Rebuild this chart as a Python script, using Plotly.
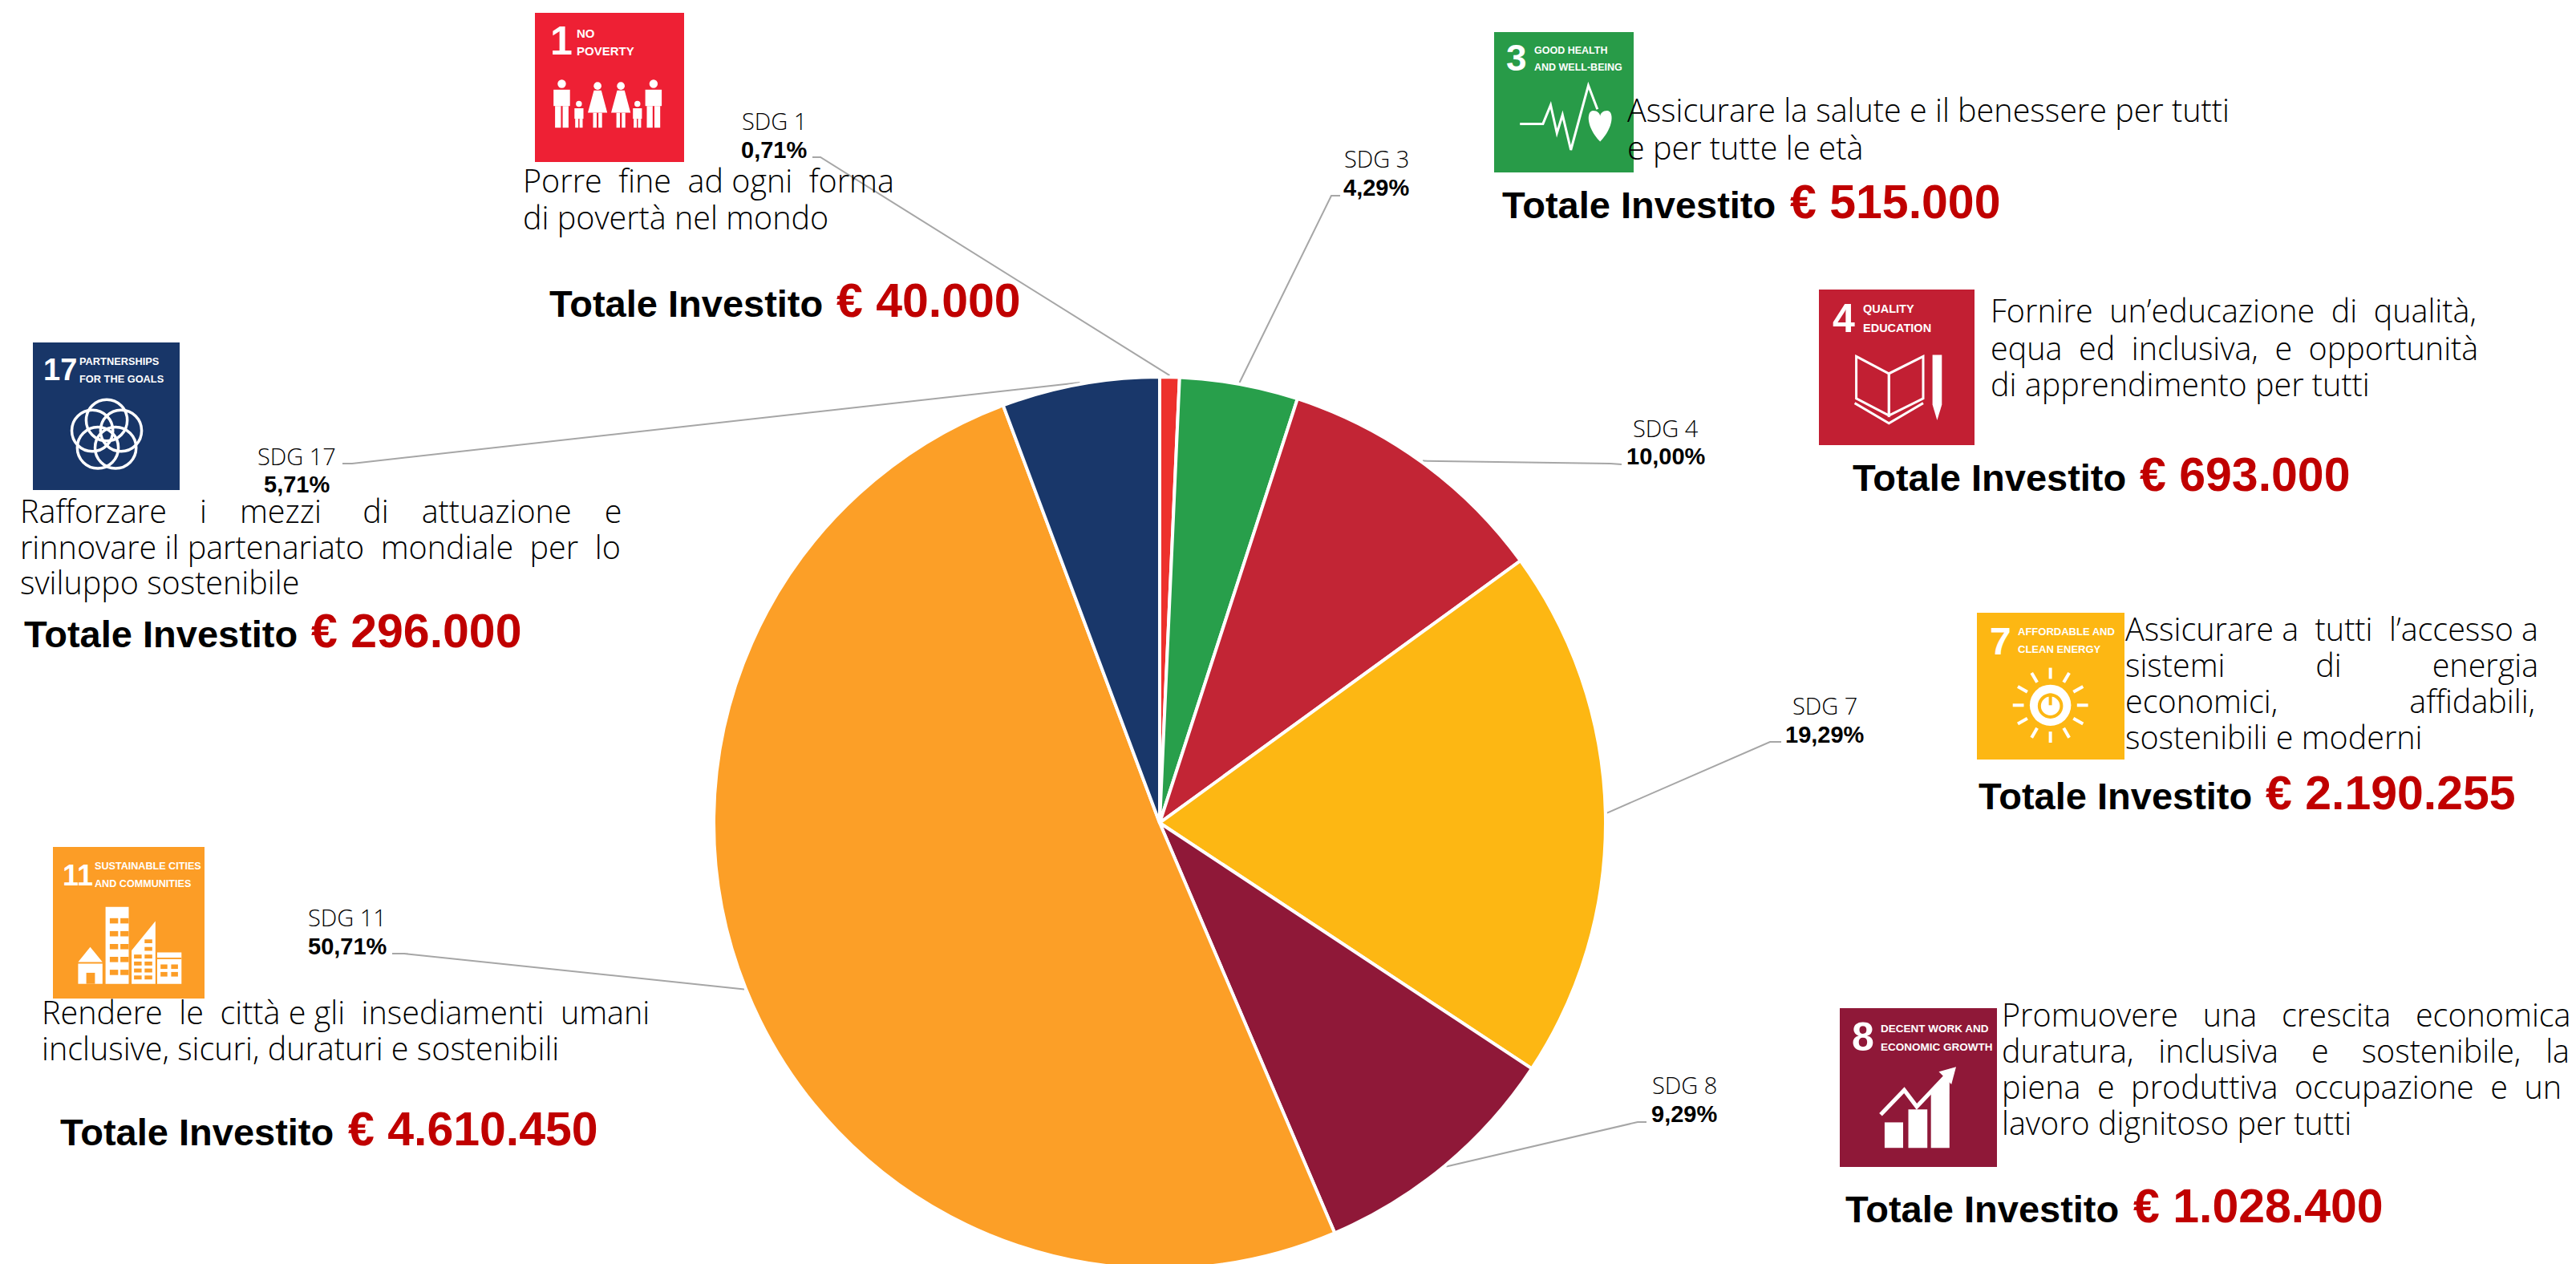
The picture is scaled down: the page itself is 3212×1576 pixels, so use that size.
import math
import re

import plotly.graph_objects as go

# Share of the investment per Sustainable Development Goal
sdg_numbers = [1, 3, 4, 7, 8, 11, 17]
sdg_shares = [0.71, 4.29, 10.00, 19.29, 9.29, 50.71, 5.71]
sdg_colors = ["#ED312C", "#289F4B", "#C22535", "#FDB713", "#8F1838", "#FC9F27", "#19376A"]
invested = ["40.000", "515.000", "693.000", "2.190.255", "1.028.400", "4.610.450", "296.000"]

# Runs of spaces stand in for the justified setting of these paragraphs
descriptions = {
    1: ["Porre  fine  ad ogni  forma", "di povertà nel mondo"],
    3: ["Assicurare la salute e il benessere per tutti", "e per tutte le età"],
    4: ["Fornire  un’educazione  di  qualità,", "equa  ed  inclusiva,  e  opportunità", "di apprendimento per tutti"],
    7: ["Assicurare a  tutti  l’accesso a", "sistemi           di           energia",
        "economici,                affidabili,", "sostenibili e moderni"],
    8: ["Promuovere   una   crescita   economica", "duratura,   inclusiva    e    sostenibile,   la",
        "piena  e  produttiva  occupazione  e  un", "lavoro dignitoso per tutti"],
    11: ["Rendere  le  città e gli  insediamenti  umani", "inclusive, sicuri, duraturi e sostenibili"],
    17: ["Rafforzare    i    mezzi     di    attuazione    e",
         "rinnovare il partenariato  mondiale  per  lo", "sviluppo sostenibile"],
}
tile_titles = {
    1: ["NO", "POVERTY"],
    3: ["GOOD HEALTH", "AND WELL-BEING"],
    4: ["QUALITY", "EDUCATION"],
    7: ["AFFORDABLE AND", "CLEAN ENERGY"],
    8: ["DECENT WORK AND", "ECONOMIC GROWTH"],
    11: ["SUSTAINABLE CITIES", "AND COMMUNITIES"],
    17: ["PARTNERSHIPS", "FOR THE GOALS"],
}
tile_colors = {1: "#EE2034", 3: "#289B48", 4: "#C21F33", 7: "#FDB713", 8: "#8F1838", 11: "#FC9D26", 17: "#183668"}

# Page layout, in pixels from the top-left corner
WIDTH, HEIGHT = 3212, 1590
PIE_X, PIE_Y, PIE_R = 1446, 1026, 556
BODY_FONT = dict(family="Open Sans", size=39.5, color="#000000", weight=300)
BOLD_FONT = "Liberation Sans"

# x0, x1, y0, y1 of each tile; number x, y, size; title x, y of both lines, size
tiles = {
    1: dict(box=(667, 853, 16, 202), num=(686, 51, 50), title=(719, 41, 63), size=15),
    3: dict(box=(1863, 2037, 40, 215), num=(1878, 72, 46), title=(1913, 63, 84), size=12.5),
    4: dict(box=(2268, 2462, 361, 555), num=(2285, 397, 50), title=(2323, 385, 409), size=14.5),
    7: dict(box=(2465, 2649, 764, 947), num=(2481, 799, 48), title=(2516, 787, 809), size=13),
    8: dict(box=(2294, 2490, 1257, 1455), num=(2309, 1293, 50), title=(2345, 1282, 1305), size=13.5),
    11: dict(box=(66, 255, 1056, 1245), num=(78, 1091, 36), title=(118, 1080, 1102), size=12.6),
    17: dict(box=(41, 224, 427, 611), num=(54, 461, 38), title=(99, 450, 472), size=12.8),
}
# x of the label centre, y of its two lines
label_pos = {
    1: (965, 150, 187), 3: (1716, 197, 234), 4: (2077, 533, 569), 7: (2275, 879, 916),
    8: (2100, 1352, 1389), 11: (433, 1143, 1180), 17: (370, 568, 604),
}
# Leader line: end of the stub next to the label, then the elbow
leader_pos = {
    1: ((1013, 196), (1023, 196)), 3: ((1671, 244), (1660, 244)), 4: ((2022, 579), (2008, 578)),
    7: ((2221, 925), (2207, 925)), 8: ((2053, 1399), (2042, 1399)), 11: ((489, 1189), (504, 1189)),
    17: ((427, 578), (439, 578)),
}
# x of the first line, y of each line of description
desc_pos = {
    1: (652, [225, 271]), 3: (2029, [137, 184]), 4: (2482, [387, 434, 479]),
    7: (2650, [784, 829, 874, 919]), 8: (2496, [1265, 1310, 1355, 1400]),
    11: (52, [1262, 1307]), 17: (25, [637, 682, 726]),
}
# x of "Totale Investito", x of the amount, y of the row
total_pos = {
    1: (685, 1043, 375), 3: (1873, 2232, 252), 4: (2310, 2668, 592), 7: (2467, 2825, 989),
    8: (2301, 2660, 1504), 11: (75, 434, 1408), 17: (30, 388, 787),
}


def scaled(num, d):
    """Convert a path written in 0-100 tile units to page pixels."""
    x0, x1, y0, y1 = tiles[num]["box"]
    count = [0]

    def repl(m):
        v = float(m.group())
        i = count[0]
        count[0] += 1
        if i % 2 == 0:
            return f"{x0 + v / 100 * (x1 - x0):.1f}"
        return f"{y0 + v / 100 * (y1 - y0):.1f}"

    return re.sub(r"-?\d+\.?\d*", repl, d)


def solid(num, d, color="white"):
    return dict(type="path", path=scaled(num, d), fillcolor=color, line=dict(width=0), xref="x", yref="y")


def stroke(num, d, width=3, color="white"):
    return dict(type="path", path=scaled(num, d), line=dict(color=color, width=width), xref="x", yref="y")


def disc(num, u, v, r, color="white", outline=None, width=0):
    x0, x1, y0, y1 = tiles[num]["box"]
    w, h = (x1 - x0) / 100, (y1 - y0) / 100
    return dict(type="circle", xref="x", yref="y",
                x0=x0 + (u - r) * w, x1=x0 + (u + r) * w, y0=y0 + (v - r) * h, y1=y0 + (v + r) * h,
                fillcolor=color if outline is None else "rgba(0,0,0,0)",
                line=dict(color=outline or color, width=width))


def rect_d(a, b, c, d):
    return f"M {a} {c} L {b} {c} L {b} {d} L {a} {d} Z"


def icon_family():
    out = []
    for u in (18, 79.5):  # adults at both ends
        out.append(disc(1, u, 47.6, 2.8))
        out.append(solid(1, rect_d(u - 5.5, u + 5.5, 51.5, 62.5)))
        out.append(solid(1, rect_d(u - 4.5, u - 0.6, 62.5, 77)))
        out.append(solid(1, rect_d(u + 0.6, u + 4.5, 62.5, 77)))
    for u in (42, 57.6):  # the two women
        out.append(disc(1, u, 49, 2.6))
        out.append(solid(1, f"M {u - 2.5} 52 L {u + 2.5} 52 L {u + 6.5} 67 L {u - 6.5} 67 Z"))
        out.append(solid(1, rect_d(u - 3, u - 0.6, 67, 77)))
        out.append(solid(1, rect_d(u + 0.6, u + 3, 67, 77)))
    for u in (29.5, 68.7):  # the two children
        out.append(disc(1, u, 61, 2))
        out.append(solid(1, rect_d(u - 3, u + 3, 64, 71)))
        out.append(solid(1, rect_d(u - 2.5, u - 0.4, 71, 77)))
        out.append(solid(1, rect_d(u + 0.4, u + 2.5, 71, 77)))
    return out


def icon_heartbeat():
    return [
        stroke(3, "M 18.5 65.4 L 35 65.4 L 40.5 52 L 45 72 L 49 59 L 55 84 L 67.5 38 L 74 55", 3),
        solid(3, "M 76 78 C 66 68 66 56 71 56 C 74 56 76 58 76 60 C 76 58 78 56 81 56 C 86 56 86 68 76 78 Z"),
    ]


def icon_book():
    return [
        stroke(4, "M 24 43 L 45 54 L 45 81 L 24 70 Z", 3),
        stroke(4, "M 67 43 L 45 54 L 45 81 L 67 70 Z", 3),
        stroke(4, "M 23 73 L 45 86 L 67 73", 3),
        solid(4, "M 73 42 L 79 42 L 79 74 L 76 84 L 73 74 Z"),
    ]


def icon_sun():
    out = [disc(7, 49.8, 63, 14), disc(7, 49.8, 63.5, 7.5, outline=tile_colors[7], width=4),
           stroke(7, "M 49.8 55 L 49.8 63", 4, tile_colors[7])]
    for k in range(12):  # rays round the disc
        a = math.radians(k * 30)
        s, c = math.sin(a), math.cos(a)
        out.append(stroke(7, f"M {49.8 + 18 * s:.2f} {63 - 18 * c:.2f} L {49.8 + 25.5 * s:.2f} {63 - 25.5 * c:.2f}", 4))
    return out


def icon_growth():
    return [
        solid(8, rect_d(28.5, 40.3, 71.9, 88)), solid(8, rect_d(43.6, 55.7, 63.8, 88)),
        solid(8, "M 58 54 L 69.8 41 L 69.8 88 L 58 88 Z"),
        stroke(8, "M 26 67 L 41 51.6 L 49 62 L 71 39", 5),
        solid(8, "M 74 37 L 63 40 L 71 48 Z"),
    ]


def icon_city():
    orange = tile_colors[11]
    out = [
        solid(11, rect_d(34.7, 50, 39.5, 90.3)),
        solid(11, "M 51.9 90.3 L 51.9 68.3 L 67.6 48.9 L 67.6 90.3 Z"),
        solid(11, rect_d(68.8, 84.8, 69.5, 90.3)),
        solid(11, "M 16.6 76 L 24.6 66 L 32.7 76 Z"),
        solid(11, rect_d(16.6, 32.7, 77, 90.3)),
        solid(11, rect_d(22, 27.7, 83, 90.3), orange),
    ]
    for r in range(5):  # windows of the tower
        for c in range(2):
            a, b = 37.5 + c * 7, 43 + c * 7
            t = 47 + r * 8.5
            out.append(solid(11, rect_d(a, b, t, t + 3.5), orange))
    for r in range(4):  # windows of the slanted block
        for c in range(2):
            a, b = 53.5 + c * 7, 58.5 + c * 7
            t = 71 + r * 4.6
            out.append(solid(11, rect_d(a, b, t, t + 2.6), orange))
    out.append(solid(11, rect_d(60.5, 65.5, 61, 63.5), orange))
    out.append(solid(11, rect_d(60.5, 65.5, 66, 68.5), orange))
    for r in range(2):  # windows of the low block
        for c in range(2):
            a, b = 71 + c * 7, 75.5 + c * 7
            t = 77.5 + r * 5
            out.append(solid(11, rect_d(a, b, t, t + 3), orange))
    out.append(solid(11, rect_d(68.8, 84.8, 73, 74), orange))
    return out


def icon_rings():
    out = []
    for k in range(5):  # five interlaced rings
        a = math.radians(k * 72)
        out.append(disc(17, 50.3 + 10.3 * math.sin(a), 63 - 10.3 * math.cos(a), 14, outline="white", width=3.5))
    return out


# Leader lines run from the middle of each slice's rim out to its label
leader_x, leader_y = [], []
running = 0.0
for num, share in zip(sdg_numbers, sdg_shares):
    mid = math.radians((running + share / 2) * 3.6)
    running += share
    rim = (PIE_X + (PIE_R + 2) * math.sin(mid), PIE_Y - (PIE_R + 2) * math.cos(mid))
    stub, elbow = leader_pos[num]
    leader_x += [stub[0], elbow[0], rim[0], None]
    leader_y += [stub[1], elbow[1], rim[1], None]

fig = go.Figure()
fig.add_trace(go.Pie(
    labels=[f"SDG {n}" for n in sdg_numbers],
    values=sdg_shares,
    sort=False,
    direction="clockwise",
    rotation=0,
    textinfo="none",
    hoverinfo="label+percent",
    marker=dict(colors=sdg_colors, line=dict(color="white", width=4)),
    domain=dict(
        x=[(PIE_X - PIE_R) / WIDTH, (PIE_X + PIE_R) / WIDTH],
        y=[1 - (PIE_Y + PIE_R) / HEIGHT, 1 - (PIE_Y - PIE_R) / HEIGHT],
    ),
    showlegend=False,
))
fig.add_trace(go.Scatter(
    x=leader_x, y=leader_y, mode="lines", line=dict(color="#A6A6A6", width=2),
    hoverinfo="skip", showlegend=False,
))

shapes = []
annotations = []


def text(x, y, s, font, xanchor="left"):
    annotations.append(dict(x=x, y=y, xref="x", yref="y", text=s, showarrow=False, xanchor=xanchor,
                            yanchor="middle", font=font, borderpad=0, borderwidth=0))


for num, tile in tiles.items():
    x0, x1, y0, y1 = tile["box"]
    shapes.append(dict(type="rect", x0=x0, x1=x1, y0=y0, y1=y1, xref="x", yref="y",
                       fillcolor=tile_colors[num], line=dict(width=0), layer="below"))
    nx, ny, nsize = tile["num"]
    text(nx, ny, str(num), dict(family=BOLD_FONT, size=nsize, color="white", weight=700))
    tx, ty1, ty2 = tile["title"]
    title_font = dict(family=BOLD_FONT, size=tile["size"], color="white", weight=700)
    text(tx, ty1, tile_titles[num][0], title_font)
    text(tx, ty2, tile_titles[num][1], title_font)

for icon in (icon_family, icon_heartbeat, icon_book, icon_sun, icon_growth, icon_city, icon_rings):
    shapes += icon()

for num, share, amount in zip(sdg_numbers, sdg_shares, invested):
    lx, ly1, ly2 = label_pos[num]
    text(lx, ly1, f"SDG {num}", dict(family="Open Sans", size=29, color="#000000", weight=300), "center")
    text(lx, ly2, f"{share:.2f}%".replace(".", ","), dict(family=BOLD_FONT, size=29, color="#000000", weight=700), "center")
    dx, rows = desc_pos[num]
    for line, y in zip(descriptions[num], rows):
        text(dx, y, line, BODY_FONT)
    bx, rx, ry = total_pos[num]
    text(bx, ry + 3, "Totale Investito", dict(family=BOLD_FONT, size=47, color="black", weight=700))
    text(rx, ry, f"€ {amount}", dict(family=BOLD_FONT, size=59, color="#C00000", weight=700))

fig.update_layout(
    width=WIDTH, height=HEIGHT,
    margin=dict(l=0, r=0, t=0, b=0),
    paper_bgcolor="white", plot_bgcolor="rgba(0,0,0,0)",
    xaxis=dict(range=[0, WIDTH], visible=False, fixedrange=True),
    yaxis=dict(range=[HEIGHT, 0], visible=False, fixedrange=True),
    shapes=shapes, annotations=annotations,
)
fig.write_html("out.html", post_script="document.body.style.overflow='hidden';")
